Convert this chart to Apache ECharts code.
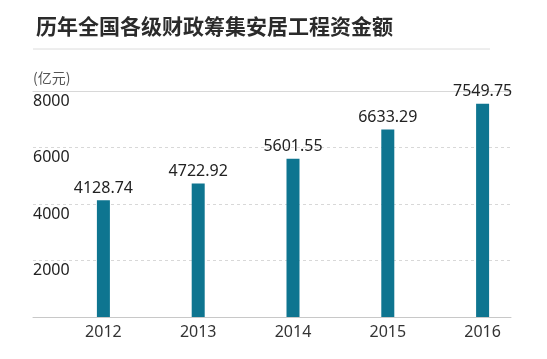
<!DOCTYPE html>
<html><head><meta charset="utf-8">
<script src="https://cdn.jsdelivr.net/npm/echarts@6/dist/echarts.min.js"></script>
<style>html,body{margin:0;padding:0;background:#fff}#c{width:547px;height:359px}</style>
</head><body><div id="c"></div>
<script>
const categories = ['2012','2013','2014','2015','2016'];
const values = [4128.74, 4722.92, 5601.55, 6633.29, 7549.75];
const yTicks = [0, 2000, 4000, 6000, 8000];
const title = '历年全国各级财政筹集安居工程资金额';
const unit = '(亿元)';

const chart = echarts.init(document.getElementById('c'));
const font = '"Noto Sans CJK SC", "Noto Sans", sans-serif';
const numFont = '"Noto Sans", "Noto Sans CJK SC", sans-serif';
chart.setOption({
  backgroundColor: '#fff',
  animation: false,
  title: {
    text: title, left: 31, top: 11,
    textStyle: {fontFamily: font, fontSize: 21, fontWeight: 'bold', color: '#2b2b2b'}
  },
  graphic: [
    {type: 'line', shape: {x1: 33, y1: 49, x2: 490, y2: 49}, style: {stroke: '#dcdcdc', lineWidth: 1}},
    {type: 'text', left: 33, top: 71, style: {text: unit, font: '14px ' + font, fill: '#555'}}
  ],
  grid: [
    {left: 33, right: 36, top: 91, bottom: 42},
    {left: 56, right: 17, top: 91, bottom: 42}
  ],
  xAxis: [
    {type: 'category', gridIndex: 0, data: categories, position: 'bottom',
     axisLine: {lineStyle: {color: '#c8c8c8'}}, axisTick: {show: false}, axisLabel: {show: false}},
    {type: 'category', gridIndex: 0, data: categories, position: 'top',
     axisLine: {lineStyle: {color: '#d8d8d8'}}, axisTick: {show: false}, axisLabel: {show: false}},
    {type: 'category', gridIndex: 1, data: categories, position: 'bottom',
     axisLine: {show: false}, axisTick: {show: false},
     axisLabel: {color: '#333', fontSize: 16, fontFamily: numFont, margin: 7}}
  ],
  yAxis: [
    {type: 'value', gridIndex: 0, min: yTicks[0], max: yTicks[yTicks.length-1], interval: 2000,
     axisLine: {show: false}, axisTick: {show: false},
     axisLabel: {inside: true, showMinLabel: false, verticalAlign: 'top', align: 'left',
       padding: [2, 0, 0, 0], color: '#222', fontSize: 16, fontFamily: numFont, margin: 0,
       formatter: v => String(v)},
     splitLine: {lineStyle: {color: '#d8d8d8', type: [3, 3]}}},
    {type: 'value', gridIndex: 1, min: yTicks[0], max: yTicks[yTicks.length-1], interval: 2000,
     show: false, splitLine: {show: false}}
  ],
  series: [{
    type: 'bar', xAxisIndex: 2, yAxisIndex: 1, data: values, barWidth: 13,
    itemStyle: {color: '#0e7590'},
    label: {show: true, position: 'top', distance: 4, color: '#222', fontSize: 16, fontFamily: numFont,
      formatter: p => p.value.toFixed(2)}
  }]
});
</script></body></html>
